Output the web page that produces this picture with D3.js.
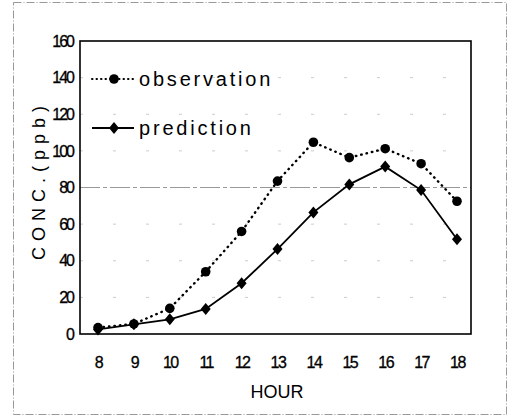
<!DOCTYPE html>
<html><head><meta charset="utf-8">
<script src="https://cdn.jsdelivr.net/npm/d3@7"></script>
<style>body{margin:0;background:#fff}svg{display:block}text{font-family:"Liberation Sans",Arial,sans-serif;fill:#000}</style>
</head><body>
<script>
const hours = [8,9,10,11,12,13,14,15,16,17,18];
const observation = [3.5,5.5,14,34,56,83.5,104.7,96.3,101.2,93,72.5];
const prediction = [2.5,5.3,8,13.7,27.7,46.4,66.4,81.7,91.4,78.6,51.7];
const yTicks = [0,20,40,60,80,100,120,140,160];
const seriesNames = ["observation","prediction"];

const W=512,H=418;
const svg=d3.select("body").append("svg").attr("width",W).attr("height",H);
// outer frame
svg.append("rect").attr("x",13.5).attr("y",2.5).attr("width",493).attr("height",412)
  .attr("fill","none").attr("stroke","#999").attr("stroke-width",1).attr("stroke-dasharray","8,2,1,2");

const L=80,R=471,T=41,B=334;
const x=d3.scaleLinear().domain([8,18]).range([98,457]);
const y=d3.scaleLinear().domain([0,160]).range([B,T]);

// gridlines
svg.append("g").selectAll("line").data(yTicks.filter(d=>d>0&&d<160)).join("line")
  .attr("x1",L).attr("x2",R).attr("y1",d=>y(d)).attr("y2",d=>y(d))
  .attr("stroke",d=>d===80?"#999":"#ccc").attr("stroke-width",1)
  .attr("stroke-dasharray",d=>d===80?"20,3,4,3":"3,30");

// frame
svg.append("rect").attr("x",L).attr("y",T).attr("width",R-L).attr("height",B-T)
  .attr("fill","none").attr("stroke","#000").attr("stroke-width",1.6);

// y axis
const ya=svg.append("g").attr("transform",`translate(${L},0)`)
  .call(d3.axisLeft(y).tickValues(yTicks).tickSize(0).tickPadding(7));
ya.select(".domain").remove();
ya.selectAll("text").attr("font-size",16).attr("letter-spacing","-2px").attr("fill","#000")
  .attr("stroke","#000").attr("stroke-width",0.3).style("font-family","'Liberation Sans',Arial,sans-serif");

// x axis
const xa=svg.append("g").attr("transform",`translate(0,${B})`)
  .call(d3.axisBottom(x).tickValues(hours).tickSize(0).tickPadding(23));
xa.select(".domain").remove();
xa.selectAll("text").attr("font-size",16).attr("letter-spacing","-1.5px").attr("fill","#000")
  .attr("stroke","#000").attr("stroke-width",0.3).style("font-family","'Liberation Sans',Arial,sans-serif");

// axis titles
svg.append("text").attr("x",277).attr("y",398).attr("text-anchor","middle")
  .attr("font-size",18).text("HOUR");
svg.append("text").attr("transform","translate(45,180) rotate(-90)").attr("text-anchor","middle")
  .attr("font-size",18).attr("letter-spacing","6px").text("CONC.(ppb)");

// lines
const line=d3.line().x((d,i)=>x(hours[i])).y(d=>y(d));
svg.append("path").datum(observation).attr("d",line).attr("fill","none")
  .attr("stroke","#000").attr("stroke-width",2.4).attr("stroke-dasharray","0.5,5").attr("stroke-linecap","round");
svg.append("path").datum(prediction).attr("d",line).attr("fill","none")
  .attr("stroke","#000").attr("stroke-width",1.8);

// markers
const diamondPath="M0,-6L5,0L0,6L-5,0Z";
svg.append("g").selectAll("circle").data(observation).join("circle")
  .attr("cx",(d,i)=>x(hours[i])).attr("cy",d=>y(d)).attr("r",4.8).attr("fill","#000");
svg.append("g").selectAll("path").data(prediction).join("path")
  .attr("transform",(d,i)=>`translate(${x(hours[i])},${y(d)})`).attr("d",diamondPath).attr("fill","#000");

// legend
const lg=svg.append("g");
lg.append("line").attr("x1",92).attr("x2",134).attr("y1",79).attr("y2",79)
  .attr("stroke","#000").attr("stroke-width",2).attr("stroke-dasharray","0.5,4").attr("stroke-linecap","round");
lg.append("circle").attr("cx",114).attr("cy",79).attr("r",4.8).attr("fill","#000");
lg.append("text").attr("x",139).attr("y",86).attr("font-size",20).attr("letter-spacing","2.8px").text(seriesNames[0]);
lg.append("line").attr("x1",92).attr("x2",134).attr("y1",128).attr("y2",128)
  .attr("stroke","#000").attr("stroke-width",1.8);
lg.append("path").attr("transform","translate(114,128)").attr("d",diamondPath).attr("fill","#000");
lg.append("text").attr("x",139).attr("y",135).attr("font-size",20).attr("letter-spacing","2.8px").text(seriesNames[1]);
</script>
</body></html>
